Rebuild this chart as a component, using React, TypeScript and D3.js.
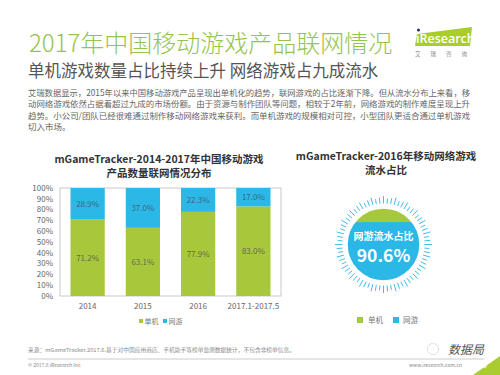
import React from "react";
import * as d3 from "d3";

const categories = ["2014", "2015", "2016", "2017.1-2017.5"];
const standaloneShare = [71.2, 63.1, 77.9, 83.0];
const onlineShare = [28.9, 37.0, 22.3, 17.0];
const yTicks = [0, 10, 20, 30, 40, 50, 60, 70, 80, 90, 100];
const revenueOnline = 90.6;
const legendLabels = ["单机", "网游"];
const paragraph = [
  "艾瑞数据显示，2015年以来中国移动游戏产品呈现出单机化的趋势，联网游戏的占比逐渐下降。但从流水分布上来看，移",
  "动网络游戏依然占据着超过九成的市场份额。由于资源与制作团队等问题，相较于2年前，网络游戏的制作难度呈现上升",
  "趋势。小公司/团队已经很难通过制作移动网络游戏来获利。而单机游戏的规模相对可控，小型团队更适合通过单机游戏",
  "切入市场。",
];

const GREEN = "#a8c83c";
const BLUE = "#2cb8e6";
const FONT = "'Noto Sans CJK SC', 'Noto Sans', sans-serif";

export default function App() {
  const x = d3.scaleBand().domain(categories).range([60, 281]).paddingInner(0.38).paddingOuter(0.19);
  const y = d3.scaleLinear().domain([0, 100]).range([296, 188]);

  // gauge
  const cx = 383.5, cy = 244.5, r = 36.5;
  const level = d3.scaleLinear().domain([0, 100]).range([cy + r, cy - r + 8]);
  const chordY = level(revenueOnline);
  const tickCount = 72;
  const ticks = d3.range(tickCount).map((i) => {
    const a = (i / tickCount) * Math.PI * 2;
    const inner = 41;
    const outer = i % 3 === 0 ? 48.5 : i % 3 === 1 ? 46 : 47;
    return {
      x1: cx + inner * Math.cos(a), y1: cy + inner * Math.sin(a),
      x2: cx + outer * Math.cos(a), y2: cy + outer * Math.sin(a),
    };
  });

  return (
    <svg width={500} height={375} style={{ position: "absolute", left: 0, top: 0, background: "#fff" }} fontFamily={FONT}>
      <rect width={500} height={375} fill="#fff" />
      {/* Title */}
      <text x={29} y={52} fontSize={24} fill="#94c350" fontWeight={300}>2017年中国移动游戏产品联网情况</text>
      <text x={28} y={77} fontSize={16.5} fill="#555" fontWeight={400}>单机游戏数量占比持续上升 网络游戏占九成流水</text>
      {/* logo */}
      <polygon points="417,34 472,27 470,46 415,46" fill="#a9cc2e" />
      <circle cx={418.5} cy={30} r={1.6} fill="#2a3a6a" />
      <text x={416} y={43} fontSize={12.5} fill="#fff" fontFamily="'Open Sans', sans-serif" fontWeight={600}>iResearch</text>
      <text x={415} y={56} fontSize={5.5} fill="#888" letterSpacing={10}>艾瑞咨询</text>
      {/* paragraph */}
      {paragraph.map((line, i) => (
        <text key={i} x={28} y={95.5 + i * 11.5} fontSize={8.5} fill="#666"
          {...(i < 3 ? { textLength: 442, lengthAdjust: "spacingAndGlyphs" } : {})}>{line}</text>
      ))}
      {/* left chart title */}
      <text x={159} y={163} fontSize={10.5} fontWeight={700} fill="#333" textAnchor="middle">mGameTracker-2014-2017年中国移动游戏</text>
      <text x={159} y={177} fontSize={10.5} fontWeight={700} fill="#333" textAnchor="middle">产品数量联网情况分布</text>
      {/* frame */}
      <rect x={60} y={188} width={221} height={108} fill="none" stroke="#bbb" strokeWidth={0.8} />
      {yTicks.map((t) => (
        <text key={t} x={53} y={y(t) + 2.8} fontSize={8} fill="#666" textAnchor="end">{t}%</text>
      ))}
      {categories.map((c, i) => {
        const s = standaloneShare[i];
        const o = onlineShare[i];
        const top = Math.min(100, s + o);
        const bx = x(c)!;
        const bw = x.bandwidth();
        return (
          <g key={c}>
            <rect x={bx} y={y(s)} width={bw} height={y(0) - y(s)} fill={GREEN} />
            <rect x={bx} y={y(top)} width={bw} height={y(s) - y(top)} fill={BLUE} />
            <text x={bx + bw / 2} y={y(s / 2) + 3} fontSize={8} fill="#6a6a4a" textAnchor="middle">{s.toFixed(1)}%</text>
            <text x={bx + bw / 2} y={y((s + top) / 2) + 3} fontSize={8} fill="#3a6a80" textAnchor="middle">{o.toFixed(1)}%</text>
            <text x={bx + bw / 2} y={309} fontSize={8} fill="#666" textAnchor="middle">{c}</text>
          </g>
        );
      })}
      {/* left legend */}
      <rect x={139} y={319} width={4} height={4} fill={GREEN} />
      <text x={144.5} y={323.5} fontSize={7} fill="#777">{legendLabels[0]}</text>
      <rect x={163} y={319} width={4} height={4} fill={BLUE} />
      <text x={168.5} y={323.5} fontSize={7} fill="#777">{legendLabels[1]}</text>

      {/* right chart title */}
      <text x={386} y={160} fontSize={10.5} fontWeight={700} fill="#333" textAnchor="middle">mGameTracker-2016年移动网络游戏</text>
      <text x={386} y={174} fontSize={10.5} fontWeight={700} fill="#333" textAnchor="middle">流水占比</text>
      {/* gauge */}
      <defs>
        <clipPath id="gclip"><circle cx={cx} cy={cy} r={r} /></clipPath>
      </defs>
      {ticks.map((t, i) => (
        <line key={i} x1={t.x1} y1={t.y1} x2={t.x2} y2={t.y2} stroke={BLUE} strokeWidth={1} opacity={0.9} />
      ))}
      <circle cx={cx} cy={cy} r={r} fill={BLUE} />
      <rect x={cx - r} y={cy - r} width={2 * r} height={chordY - (cy - r)} fill={GREEN} clipPath="url(#gclip)" />
      <circle cx={cx} cy={cy} r={r} fill="none" stroke="#fff" strokeWidth={1.5} />
      <text x={cx} y={240} fontSize={10} fontWeight={700} fill="#fff" textAnchor="middle">网游流水占比</text>
      <text x={cx} y={262} fontSize={17.5} fontWeight={700} fill="#fff" textAnchor="middle">{revenueOnline}%</text>
      {/* right legend */}
      <rect x={357} y={317} width={6} height={6} fill={GREEN} />
      <text x={368} y={323} fontSize={7.5} fill="#777">{legendLabels[0]}</text>
      <rect x={393} y={317} width={6} height={6} fill={BLUE} />
      <text x={403} y={323} fontSize={7.5} fill="#777">{legendLabels[1]}</text>

      {/* footer */}
      <text x={28} y={352} fontSize={5.2} fill="#888" textLength={267} lengthAdjust="spacingAndGlyphs">来源：mGameTracker.2017.6.基于对中国应用商店、手机助手等榜单监测数据统计，不包含非榜单信息。</text>
      <line x1={28} y1={359} x2={484} y2={359} stroke="#aaa" strokeWidth={0.6} />
      <text x={28} y={367} fontSize={5} fill="#888">© 2017.8 iResearch Inc</text>
      <text x={462} y={367} fontSize={5} fill="#888" textAnchor="end">www.iresearch.com.cn</text>
      <text x={448} y={354} fontSize={12} fill="#555" fontStyle="italic">数据局</text>
      <circle cx={433} cy={349} r={5.5} fill="none" stroke="#bbb" strokeWidth={0.8} strokeDasharray="1.5,1" />
      <polygon points="500,356 500,375 473,375" fill="#a9cc2e" />
      <text x={483} y={368} fontSize={7.5} fill="#fff" textAnchor="middle">10</text>
    </svg>
  );
}
